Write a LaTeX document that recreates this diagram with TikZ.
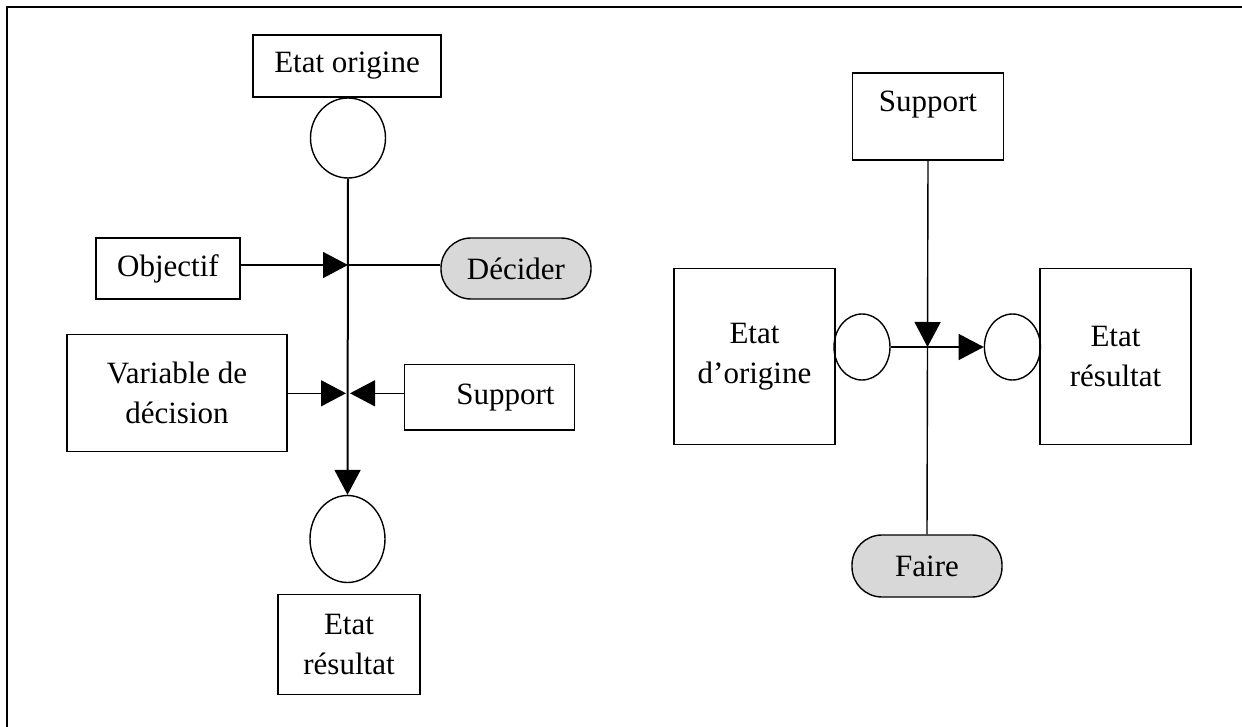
\documentclass[tikz,border=0pt]{standalone}
\usepackage{fontspec}
\setmainfont{Liberation Serif}
\usetikzlibrary{arrows.meta,shapes.geometric}
\definecolor{pillgray}{RGB}{216,216,216}
\begin{document}
\begin{tikzpicture}[x=1pt,y=-1pt,
  every node/.style={font=\fontsize{31pt}{39.5pt}\selectfont, inner sep=0pt, align=center},
  box/.style={draw, line width=1.4pt},
  pill/.style={draw, line width=1.4pt, fill=pillgray, rounded corners=30pt},
  place/.style={draw, ellipse, line width=1.4pt},
  link/.style={line width=1.4pt},
  spine/.style={line width=2pt},
  tip/.style={-{Triangle[length=25pt,width=26pt]}}
]
\useasboundingbox (0,0) rectangle (1242,727);

% page frame (left and top rules)
\draw[line width=2pt] (6.5,727) -- (6.5,7.5) -- (1242,7.5);

% ---------- Decision ----------
\node[box, minimum width=188pt, minimum height=62pt] (orig) at (347,66) {Etat origine};
\node[place, minimum width=75pt, minimum height=80pt] (pin) at (348,138) {};
\node[box, minimum width=144pt, minimum height=61pt] (obj) at (168,268.5) {Objectif};
\node[pill, minimum width=150pt, minimum height=61pt] (dec) at (516,268.5) {Décider};
\node[box, minimum width=220pt, minimum height=116.5pt] (var) at (177,393) {Variable de\\décision};
\node[box, minimum width=170pt, minimum height=65.5pt] (sup) at (489.5,397.3) {\hspace*{32pt}Support};
\node[place, minimum width=75pt, minimum height=87pt] (pout) at (347.5,539) {};
\node[box, minimum width=142pt, minimum height=100.5pt] (res) at (349,644.5) {Etat\\résultat};

\coordinate (jo) at (348,265);
\coordinate (jv) at (348,393.3);

\draw[spine, tip] (pin.south) -- (pout.north);
\draw[link, tip] (obj.east |- jo) -- (jo);
\draw[link] (jo) -- (dec.west |- jo);
\draw[link, tip] (var.east |- jv) -- ([xshift=-2pt]jv);
\draw[link, tip] (sup.west |- jv) -- ([xshift=2pt]jv);

% ---------- Action ----------
\node[box, minimum width=151pt, minimum height=87pt, text depth=31pt, text height=22pt] (sup2) at (928,116.5) {Support};
\node[box, minimum width=161pt, minimum height=176pt] (eo) at (754.5,356.6) {Etat\\d’origine};
\node[box, minimum width=151pt, minimum height=176pt] (er) at (1115.5,356.6) {Etat\\résultat};
\node[place, minimum width=56pt, minimum height=66pt] (pl) at (862,347) {};
\node[place, minimum width=56pt, minimum height=66pt] (pr) at (1012.4,347) {};
\node[pill, minimum width=150pt, minimum height=62pt] (fai) at (927,566) {Faire};

\coordinate (ja) at (927.5,347);

\draw[link, tip] (sup2.south) -- (ja);
\draw[link, tip] (pl.east) -- (pr.west);
\draw[link] (ja) -- (fai.north);
\end{tikzpicture}
\end{document}
